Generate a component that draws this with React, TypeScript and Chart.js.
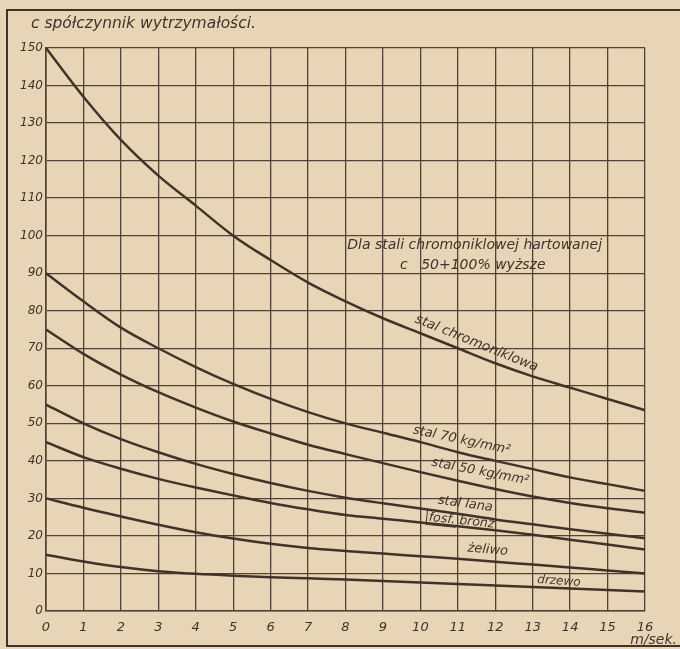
import { useEffect, useRef } from "react";
import { Chart, registerables } from "chart.js";

Chart.register(...registerables);

// Prędkość obwodowa [m/sek.]
const speeds = [0, 1, 2, 3, 4, 5, 6, 7, 8, 9, 10, 11, 12, 13, 14, 15, 16];
const xTickLabels = ["0", "1", "2", "3", "4", "5", "6", "7", "8", "9", "10", "11", "12", "13", "14", "15", "16"];
const yTickValues = [0, 10, 20, 30, 40, 50, 60, 70, 80, 90, 100, 110, 120, 130, 140, 150];

// Współczynnik wytrzymałości c
const stalChromoniklowa = [150, 137, 125.5, 116, 108, 100, 93.5, 87.5, 82.5, 78, 74, 70, 66, 62.5, 59.5, 56.5, 53.5];
const stal70 = [90, 82.5, 75.5, 70, 65, 60.5, 56.5, 53, 50, 47.5, 45, 42.3, 40, 37.8, 35.6, 33.8, 32];
const stal50 = [75, 68.5, 63, 58.3, 54.2, 50.5, 47.3, 44.3, 41.8, 39.4, 37, 34.7, 32.5, 30.5, 28.8, 27.4, 26.2];
const stalLana = [55, 50, 45.8, 42.3, 39.2, 36.5, 34.1, 32, 30.2, 28.7, 27.3, 25.9, 24.4, 23.1, 21.8, 20.6, 19.4];
const fosfBronz = [45, 41, 37.9, 35.2, 32.9, 30.8, 28.8, 27.1, 25.6, 24.6, 23.6, 22.6, 21.5, 20.3, 19, 17.7, 16.4];
const zeliwo = [30, 27.5, 25.2, 23, 21, 19.3, 17.9, 16.8, 16, 15.3, 14.6, 13.9, 13.1, 12.4, 11.6, 10.8, 10];
const drzewo = [15, 13.2, 11.7, 10.6, 9.9, 9.4, 9, 8.7, 8.4, 8, 7.6, 7.2, 6.8, 6.4, 6, 5.6, 5.2];

const seriesNames = ["stal chromoniklowa", "stal 70 kg/mm²", "stal 50 kg/mm²", "stal lana", "fosf. bronz", "żeliwo", "drzewo"];
const seriesValues = [stalChromoniklowa, stal70, stal50, stalLana, fosfBronz, zeliwo, drzewo];

const titleText = "c spółczynnik wytrzymałości.";
const unitText = "m/sek.";
const noteLine1 = "Dla stali chromoniklowej hartowanej";
const noteLine2 = "c   50+100% wyższe";

// Annotation anchors (data coordinates), rotation and size
const curveLabels = [
  { text: "stal chromoniklowa", x: 11.5, y: 71.3, angle: 22, size: 13.5 },
  { text: "stal 70 kg/mm²", x: 11.1, y: 45.5, angle: 12, size: 13 },
  { text: "stal 50 kg/mm²", x: 11.6, y: 37.1, angle: 11, size: 13 },
  { text: "stal lana", x: 11.2, y: 28.5, angle: 8, size: 13 },
  { text: "fosf. bronz", x: 11.1, y: 24.0, angle: 6, size: 12.5 },
  { text: "żeliwo", x: 11.8, y: 16.3, angle: 5, size: 13 },
  { text: "drzewo", x: 13.7, y: 7.9, angle: 4, size: 12 },
];

const PAPER = "#e8d5b6";
const INK = "#3f342d";
const GRID = "#4f4238";
const FONT = "'DejaVu Sans', sans-serif";

const paperPlugin = {
  id: "paper",
  beforeDraw(chart: any) {
    const { ctx, width, height } = chart;
    ctx.save();
    ctx.fillStyle = PAPER;
    ctx.fillRect(0, 0, width, height);
    ctx.strokeStyle = INK;
    ctx.lineWidth = 2;
    ctx.strokeRect(7, 10, width + 20, 636);
    ctx.restore();
  },
  afterDraw(chart: any) {
    const { ctx, scales } = chart;
    const xs = scales.x;
    const ys = scales.y;
    ctx.save();
    ctx.fillStyle = INK;
    ctx.textBaseline = "middle";
    // title
    ctx.font = `italic 15.5px ${FONT}`;
    ctx.textAlign = "left";
    ctx.fillText(titleText, 31, 24);
    // unit
    ctx.font = `italic 14px ${FONT}`;
    ctx.textAlign = "right";
    ctx.fillText(unitText, 677, 640);
    // note
    ctx.font = `italic 14px ${FONT}`;
    ctx.textAlign = "center";
    ctx.fillText(noteLine1, xs.getPixelForValue(11.45), ys.getPixelForValue(97.3));
    ctx.fillText(noteLine2, xs.getPixelForValue(11.4), ys.getPixelForValue(92.0));
    // curve labels
    for (const l of curveLabels) {
      ctx.save();
      ctx.font = `italic ${l.size}px ${FONT}`;
      ctx.translate(xs.getPixelForValue(l.x), ys.getPixelForValue(l.y));
      ctx.rotate((l.angle * Math.PI) / 180);
      ctx.textAlign = "center";
      ctx.fillText(l.text, 0, 0);
      if (l.text.startsWith("fosf.")) {
        const full = ctx.measureText(l.text).width;
        const part = ctx.measureText("fosf.").width;
        const x0 = -full / 2 - 2;
        ctx.strokeStyle = INK;
        ctx.lineWidth = 1;
        ctx.beginPath();
        ctx.moveTo(x0, -7);
        ctx.lineTo(x0, 7);
        ctx.lineTo(x0 + part + 3, 7);
        ctx.stroke();
      }
      ctx.restore();
    }
    ctx.restore();
  },
};

export default function App() {
  const canvasRef = useRef<HTMLCanvasElement | null>(null);

  useEffect(() => {
    document.body.style.margin = "0";
    const canvas = canvasRef.current;
    if (!canvas) return;
    const chart = new Chart(canvas, {
      type: "line",
      data: {
        datasets: seriesNames.map((name, i) => ({
          label: name,
          data: speeds.map((s, j) => ({ x: s, y: seriesValues[i][j] })),
          borderColor: INK,
          borderWidth: 2.5,
          pointRadius: 0,
          fill: false,
          cubicInterpolationMode: "monotone" as const,
          clip: false as any,
        })),
      },
      options: {
        responsive: false,
        animation: false,
        layout: { padding: { top: 48, right: 35, left: 0, bottom: 0 } },
        plugins: {
          legend: { display: false },
          tooltip: { enabled: false },
          title: { display: false },
        },
        scales: {
          x: {
            type: "linear",
            min: 0,
            max: 16,
            afterFit: (s: any) => {
              s.height = 38;
            },
            afterBuildTicks: (s: any) => {
              s.ticks = speeds.map((v) => ({ value: v }));
            },
            ticks: {
              stepSize: 1,
              padding: 9,
              color: INK,
              font: { family: FONT, size: 13, style: "italic" },
              callback: (v: any) => xTickLabels[speeds.indexOf(Number(v))] ?? "",
              maxRotation: 0,
              autoSkip: false,
            },
            grid: { color: GRID, lineWidth: 1.3, drawTicks: false },
            border: { color: GRID, width: 1.6 },
          },
          y: {
            type: "linear",
            min: 0,
            max: 150,
            afterFit: (s: any) => {
              s.width = 46;
            },
            afterBuildTicks: (s: any) => {
              s.ticks = yTickValues.map((v) => ({ value: v }));
            },
            ticks: {
              stepSize: 10,
              padding: 3,
              color: INK,
              font: { family: FONT, size: 12, style: "italic" },
              autoSkip: false,
            },
            grid: { color: GRID, lineWidth: 1.3, drawTicks: false },
            border: { color: GRID, width: 1.6 },
          },
        },
      },
      plugins: [paperPlugin],
    });
    return () => chart.destroy();
  }, []);

  return (
    <div style={{ width: 680, height: 649 }}>
      <canvas ref={canvasRef} width={680} height={649} style={{ display: "block" }} />
    </div>
  );
}
